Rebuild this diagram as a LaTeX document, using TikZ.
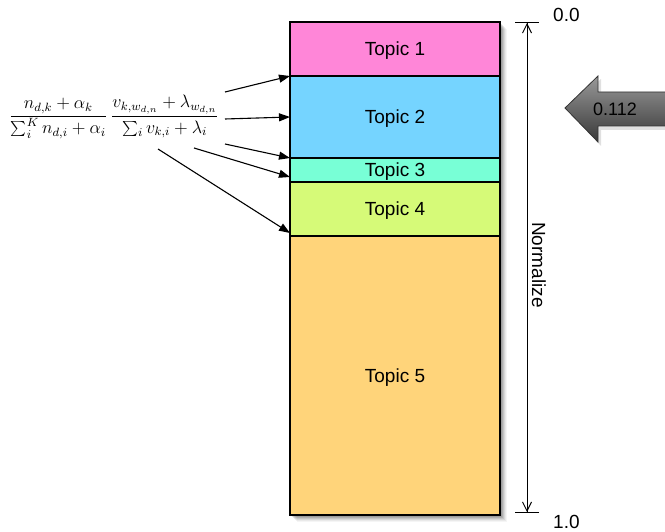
\documentclass[tikz,border=0pt]{standalone}
\usepackage{fontspec}
\setmainfont{Liberation Sans}
\usetikzlibrary{arrows.meta,calc}
\definecolor{cone}{RGB}{255,134,216}
\definecolor{ctwo}{RGB}{117,212,255}
\definecolor{cthree}{RGB}{120,255,214}
\definecolor{cfour}{RGB}{214,250,120}
\definecolor{cfive}{RGB}{255,212,122}
\begin{document}
\begin{tikzpicture}[x=1pt,y=-1pt,
  topic/.style={rectangle,draw=black,line width=1.2pt,minimum width=210pt,inner sep=0pt,outer sep=0pt,text depth=0pt,anchor=north west,font=\fontsize{19}{22}\selectfont},
  ptr/.style={line width=1.1pt,-{Triangle[length=11pt,width=8pt]}},
  lbl/.style={font=\fontsize{19}{22}\selectfont,inner sep=0pt},
  normarrow/.style={line width=1pt,{Bar[width=24pt,line width=1pt]Straight Barb[length=9pt,width=9pt,line width=1pt]}-{Straight Barb[length=9pt,width=9pt,line width=1pt]Bar[width=24pt,line width=1pt]}}]
\useasboundingbox (0,0) rectangle (665,532);
% soft shadow of the column
\foreach \d/\o in {1/0.12,2/0.11,3/0.10,4/0.09,5/0.07,6/0.05,7/0.04}{
  \fill[black,opacity=\o] (290+\d,22+\d) rectangle (500+\d,515+\d);
}
\node[topic,fill=cone,minimum height=54pt] (t1) at (290,22) {Topic 1};
\node[topic,fill=ctwo,minimum height=82pt] (t2) at (t1.south west) {Topic 2};
\node[topic,fill=cthree,minimum height=24pt] (t3) at (t2.south west) {Topic 3};
\node[topic,fill=cfour,minimum height=54pt] (t4) at (t3.south west) {Topic 4};
\node[topic,fill=cfive,minimum height=279pt] (t5) at (t4.south west) {Topic 5};
% formula
\node[inner sep=0pt] (f) at (114,117) {\scalebox{1.5}{\fontsize{12}{14}\selectfont$\displaystyle
  \frac{n_{d,k}+\alpha_k}{\sum\nolimits_i^K n_{d,i}+\alpha_i}\,
  \frac{v_{k,w_{d,n}}+\lambda_{w_{d,n}}}{\sum\nolimits_i v_{k,i}+\lambda_i}$}};
\coordinate (s1) at (225,92);
\coordinate (s2) at (225,119);
\coordinate (s3) at (225,144);
\coordinate (s4) at (194,148);
\coordinate (s5) at (158,149);
\draw[ptr] (s1) -- (t1.south west);
\draw[ptr] (s2) -- (t2.west);
\draw[ptr] (s3) -- (t2.south west);
\draw[ptr] (s4) -- ($(t3.south west)+(0,-5)$);
\draw[ptr] (s5) -- ($(t4.south west)+(0,-3)$);
% normalize
\coordinate (n0) at (527,22);
\coordinate (n1) at (527,513);
\draw[normarrow] (n0) -- (n1);
\node[lbl,anchor=west] (z0) at (553,15) {0.0};
\node[lbl,anchor=west] (z1) at (553,522) {1.0};
\node[lbl,rotate=-90] (nm) at (539,265) {Normalize};
% gray arrow
\fill[black,opacity=0.12] (568,111) -- (601,79) -- (601,95) -- (665,95) -- (665,130) -- (601,130) -- (601,146) -- cycle;
\shade[top color=black!40,bottom color=black!78,draw=black!80,line width=0.8pt]
  (565,108) -- (598,76) -- (598,92) -- (666,92) -- (666,126) -- (598,126) -- (598,142) -- cycle;
\node[lbl,font=\fontsize{18}{20}\selectfont] (v) at (615,109) {0.112};
\end{tikzpicture}
\end{document}
